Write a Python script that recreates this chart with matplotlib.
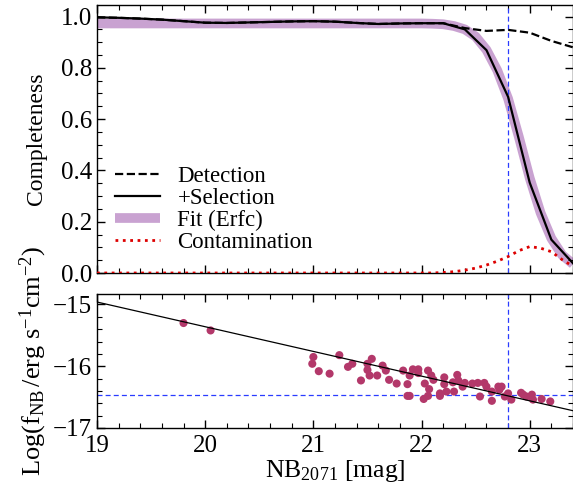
import numpy as np
import matplotlib
matplotlib.use("Agg")
import matplotlib.pyplot as plt
from matplotlib.ticker import MultipleLocator

plt.rcParams['font.family'] = ['Liberation Serif', 'DejaVu Serif']
plt.rcParams['mathtext.fontset'] = 'custom'
plt.rcParams['mathtext.rm'] = 'Liberation Serif'
plt.rcParams['mathtext.it'] = 'Liberation Serif:italic'

# ---- completeness data (0.2 mag bins) ----
mag_bins = [19.0, 19.2, 19.4, 19.6, 19.8, 20.0, 20.2, 20.4, 20.6, 20.8, 21.0, 21.2,
            21.4, 21.6, 21.8, 22.0, 22.2, 22.4, 22.6, 22.8, 23.0, 23.2, 23.4]
selection = [0.997, 0.995, 0.992, 0.988, 0.982, 0.976, 0.975, 0.977, 0.979, 0.981, 0.982, 0.980,
             0.975, 0.971, 0.973, 0.974, 0.974, 0.950, 0.869, 0.687, 0.352, 0.130, 0.038]
detection = [0.997, 0.995, 0.992, 0.988, 0.982, 0.976, 0.975, 0.977, 0.979, 0.981, 0.982, 0.980,
             0.975, 0.971, 0.973, 0.974, 0.974, 0.955, 0.944, 0.948, 0.937, 0.905, 0.880]

fit_mag = [19.0, 20.0, 21.0, 22.0, 22.1, 22.2, 22.3, 22.4, 22.5, 22.6, 22.7, 22.8,
           22.9, 23.0, 23.1, 23.2, 23.3, 23.4]
fit_val = [0.973, 0.973, 0.973, 0.973, 0.972, 0.970, 0.963, 0.950, 0.922, 0.870, 0.790, 0.680,
           0.530, 0.370, 0.235, 0.135, 0.070, 0.035]

cont_mag = [19.0, 22.1, 22.2, 22.3, 22.4, 22.5, 22.6, 22.7, 22.8, 22.9, 23.0, 23.1, 23.2, 23.3, 23.4]
cont_val = [0.0, 0.0, 0.002, 0.005, 0.011, 0.019, 0.031, 0.046, 0.064, 0.087, 0.103, 0.097,
            0.083, 0.052, 0.026]

mag_limit = 22.8
flux_limit = -16.46

# ---- flux vs magnitude ----
src_mag = [19.80, 20.05, 21.00, 20.99, 21.05, 21.15, 21.24, 21.32, 21.36, 21.44, 21.50, 21.54,
           21.50, 21.52, 21.59, 21.64, 21.67, 21.70, 21.77, 21.83, 21.87, 21.87, 21.89, 21.92,
           21.97, 21.97, 21.89, 22.06, 22.03, 22.09, 22.11, 22.07, 22.02, 22.06, 22.17, 22.21,
           22.21, 22.23, 22.17, 22.29, 22.30, 22.33, 22.34, 22.38, 22.40, 22.47, 22.52, 22.54,
           22.58, 22.60, 22.65, 22.65, 22.71, 22.74, 22.72, 22.77, 22.83, 22.80, 22.92, 22.94,
           22.97, 23.02, 23.03, 23.11, 23.19]
src_logf = [-15.30, -15.42, -15.85, -15.96, -16.08, -16.12, -15.82, -16.01, -15.96, -16.23, -15.96, -15.88,
            -16.06, -16.15, -16.15, -15.99, -16.07, -16.22, -16.28, -16.07, -16.29, -16.48, -16.48, -16.05,
            -16.05, -16.11, -16.15, -16.07, -16.28, -16.15, -16.22, -16.37, -16.53, -16.48, -16.44, -16.18,
            -16.29, -16.41, -16.48, -16.26, -16.41, -16.14, -16.23, -16.33, -16.27, -16.28, -16.27, -16.49,
            -16.27, -16.33, -16.56, -16.41, -16.33, -16.33, -16.38, -16.49, -16.54, -16.44, -16.43, -16.46,
            -16.49, -16.46, -16.54, -16.53, -16.57]
rel_mag = [19.0, 23.4]
rel_logf = [-14.96, -16.72]

fig = plt.figure(figsize=(5.73, 4.92), dpi=100)
ax1 = fig.add_axes([97/573, (492-273)/492, 476/573, 268/492])
ax2 = fig.add_axes([97/573, (492-428)/492, 476/573, 134/492])

fs = 18
blue = '#2a3cff'

ax1.plot(fit_mag, fit_val, color='#c9a2d1', lw=7, solid_capstyle='butt', label='Fit (Erfc)', zorder=1)
ax1.plot(mag_bins, detection, color='black', ls='--', lw=1.6, label='Detection', zorder=3)
ax1.plot(mag_bins, selection, color='black', ls='-', lw=1.6, label='+Selection', zorder=4)
ax1.plot(cont_mag, cont_val, color='#dd0000', ls=':', lw=2.0, label='Contamination', zorder=5)
ax1.axvline(mag_limit, color=blue, ls=(0, (4, 2.5)), lw=0.9, zorder=2)

h, l = ax1.get_legend_handles_labels()
order = [1, 2, 0, 3]
ax1.legend([h[i] for i in order], [l[i] for i in order], loc='lower left',
           bbox_to_anchor=(0.037, 0.075), frameon=False, fontsize=16.5,
           handlelength=2.0, handletextpad=0.74, labelspacing=0.04, borderpad=0, borderaxespad=0)

ax1.set_xlim(19, 23.4)
ax1.set_ylim(0, 1.045)
ax1.set_ylabel('Completeness', fontsize=17, labelpad=10)
ax1.yaxis.set_minor_locator(MultipleLocator(0.05))
ax1.set_yticks([0, 0.2, 0.4, 0.6, 0.8, 1.0])
ax1.set_yticklabels(['0.0', '0.2', '0.4', '0.6', '0.8', '1.0'])

ax2.scatter(src_mag, src_logf, s=34, color='#b3386a', edgecolors='none', zorder=3)
ax2.plot(rel_mag, rel_logf, color='black', lw=0.9, zorder=4)
ax2.axvline(mag_limit, color=blue, ls=(0, (4, 2.5)), lw=0.9, zorder=2)
ax2.axhline(flux_limit, color=blue, ls=(0, (4, 2.5)), lw=0.9, zorder=2)
ax2.set_xlim(19, 23.4)
ax2.set_ylim(-17, -14.83)
ax2.yaxis.set_major_locator(MultipleLocator(1))
ax2.yaxis.set_minor_locator(MultipleLocator(0.2))
ax2.set_xlabel(r'NB$_{\rm 2071}$ [mag]', fontsize=18.5, labelpad=1)
ax2.set_ylabel(r'Log(f$_{\rm NB}\,$/erg s$^{-1}$cm$^{-2}$)', fontsize=19, labelpad=3)

for ax in (ax1, ax2):
    ax.xaxis.set_major_locator(MultipleLocator(1))
    ax.xaxis.set_minor_locator(MultipleLocator(0.2))
    ax.tick_params(which='both', direction='in', top=True, right=True, labelsize=fs)
    ax.tick_params(which='major', length=6, width=1)
    ax.tick_params(which='minor', length=3.5, width=0.8)
    ax.tick_params(axis='x', which='major', pad=5)
    for s in ax.spines.values():
        s.set_linewidth(1.0)
ax1.tick_params(labelbottom=False)

fig.savefig('out.png', dpi=100)
